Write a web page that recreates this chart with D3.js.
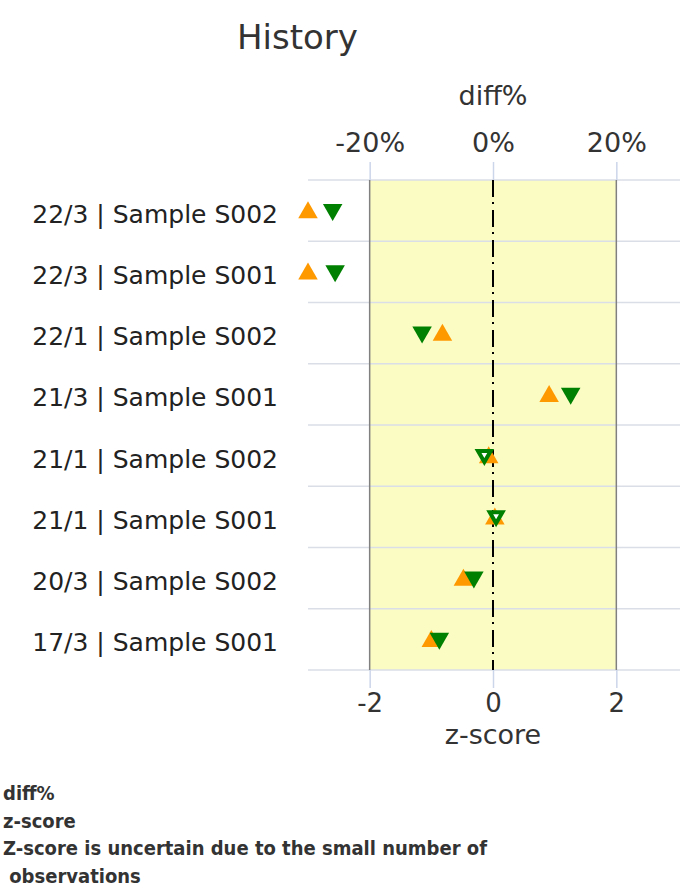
<!DOCTYPE html>
<html>
<head>
<meta charset="utf-8">
<script src="https://cdn.jsdelivr.net/npm/d3@7"></script>
<style>
  body { margin: 0; background: #fff; }
  svg { display: block; font-family: "DejaVu Sans", sans-serif; }
</style>
</head>
<body>
<svg id="chart" width="690" height="888"></svg>
<script>
// rows, top to bottom
const labels = [
  "22/3 | Sample S002",
  "22/3 | Sample S001",
  "22/1 | Sample S002",
  "21/3 | Sample S001",
  "21/1 | Sample S002",
  "21/1 | Sample S001",
  "20/3 | Sample S002",
  "17/3 | Sample S001"
];
// diff% (orange, top axis)
const diffPct = [-30, -30, -8.2, 9.1, -0.7, 0.3, -4.8, -10.0];
// z-score (green, bottom axis)
const zScore = [-2.6, -2.56, -1.15, 1.26, -0.14, 0.05, -0.31, -0.87];
// z-score uncertain -> open marker
const uncertain = [false, false, false, false, true, true, false, false];

const diffTicks = [-20, 0, 20];
const zTicks = [-2, 0, 2];
const legendLines = ["diff%", "z-score", "Z-score is uncertain due to the small number of", " observations"];

let svg = d3.select("#chart");
let plotLeft = 308, plotRight = 678, plotTop = 180, plotBottom = 670;

let x = d3.scaleLinear().domain([-3, 3]).range([plotLeft, plotRight]);       // z-score
let xd = d3.scaleLinear().domain([-30, 30]).range([plotLeft, plotRight]);    // diff%
let y = d3.scaleBand().domain(labels).range([plotTop, plotBottom]);

let rows = labels.map(function(l, i) {
  return { label: l, diff: diffPct[i], z: zScore[i], open: uncertain[i] };
});

//title
svg.append("text")
  .attr("x", 237).attr("y", 49)
  .attr("font-size", "34px").attr("fill", "#333")
  .text("History");

//yellow band between -2 and 2
svg.append("rect")
  .attr("x", x(-2)).attr("y", plotTop)
  .attr("width", x(2) - x(-2)).attr("height", plotBottom - plotTop)
  .attr("fill", "#fbfcc4");

//horizontal grid lines
let gridY = labels.map(function(l) { return y(l); }).concat([plotBottom]);
svg.selectAll("line.grid")
  .data(gridY)
  .enter()
  .append("line")
    .attr("class", "grid")
    .attr("x1", plotLeft).attr("x2", 680)
    .attr("y1", function(d) { return d; })
    .attr("y2", function(d) { return d; })
    .attr("stroke", "#dadee6").attr("stroke-width", 1.5);

//band borders
svg.selectAll("line.band")
  .data([-2, 2])
  .enter()
  .append("line")
    .attr("class", "band")
    .attr("x1", function(d) { return x(d); })
    .attr("x2", function(d) { return x(d); })
    .attr("y1", plotTop).attr("y2", plotBottom)
    .attr("stroke", "#808080").attr("stroke-width", 1.5);

//zero line, dash-dot
svg.append("line")
  .attr("x1", x(0)).attr("x2", x(0))
  .attr("y1", plotTop).attr("y2", plotBottom)
  .attr("stroke", "#000").attr("stroke-width", 2)
  .attr("stroke-dasharray", "17,5,2,6");

//top axis (diff%)
let topAxis = svg.append("g")
  .attr("transform", "translate(0," + plotTop + ")")
  .call(d3.axisTop(xd).tickValues(diffTicks).tickSize(18).tickPadding(10)
    .tickFormat(function(d) { return d + "%"; }));
topAxis.select(".domain").remove();

//bottom axis (z-score)
let bottomAxis = svg.append("g")
  .attr("transform", "translate(0," + plotBottom + ")")
  .call(d3.axisBottom(x).tickValues(zTicks).tickSize(18).tickPadding(6)
    .tickFormat(function(d) { return String(d); }));
bottomAxis.select(".domain").remove();

svg.selectAll(".tick line").attr("stroke", "#ccd6eb").attr("stroke-width", 1.5);
topAxis.selectAll(".tick text")
  .attr("font-family", "DejaVu Sans, sans-serif")
  .attr("font-size", "27px").attr("fill", "#333");
bottomAxis.selectAll(".tick text")
  .attr("font-family", "DejaVu Sans, sans-serif")
  .attr("font-size", "26px").attr("fill", "#333");

svg.append("text")
  .attr("x", x(0)).attr("y", 105).attr("text-anchor", "middle")
  .attr("font-size", "27px").attr("fill", "#333")
  .text("diff%");

svg.append("text")
  .attr("x", x(0)).attr("y", 744).attr("text-anchor", "middle")
  .attr("font-size", "27px").attr("fill", "#333")
  .text("z-score");

//row labels
svg.selectAll("text.row")
  .data(rows)
  .enter()
  .append("text")
    .attr("class", "row")
    .attr("x", 278)
    .attr("y", function(d) { return y(d.label) + y.bandwidth() / 2 + 12; })
    .attr("text-anchor", "end")
    .attr("font-size", "25px").attr("fill", "#222")
    .text(function(d) { return d.label; });

//markers
let tri = d3.symbol().type(d3.symbolTriangle).size(165);
let triOpen = d3.symbol().type(d3.symbolTriangle).size(70);

svg.selectAll("path.diff")
  .data(rows)
  .enter()
  .append("path")
    .attr("class", "diff")
    .attr("d", tri)
    .attr("transform", function(d) {
      return "translate(" + xd(d.diff) + "," + (y(d.label) + y.bandwidth() / 2 + 2) + ")";
    })
    .attr("fill", "#ff9900");

svg.selectAll("path.z")
  .data(rows)
  .enter()
  .append("path")
    .attr("class", "z")
    .attr("d", function(d) { return d.open ? triOpen() : tri(); })
    .attr("transform", function(d) {
      return "translate(" + x(d.z) + "," + (y(d.label) + y.bandwidth() / 2 - 1) + ") rotate(180)";
    })
    .attr("fill", function(d) { return d.open ? "#fff" : "#008000"; })
    .attr("stroke", function(d) { return d.open ? "#008000" : "none"; })
    .attr("stroke-width", 4)
    .attr("stroke-linejoin", "miter");

//legend text
svg.selectAll("text.legend")
  .data(legendLines)
  .enter()
  .append("text")
    .attr("class", "legend")
    .attr("x", 3)
    .attr("y", function(d, i) { return 800 + i * 27.5; })
    .attr("font-family", "DejaVu Sans Condensed, DejaVu Sans, sans-serif")
    .attr("font-stretch", "condensed")
    .attr("font-weight", "bold")
    .attr("font-size", "20px").attr("fill", "#333")
    .attr("xml:space", "preserve")
    .style("white-space", "pre")
    .text(function(d) { return d; });
</script>
</body>
</html>
